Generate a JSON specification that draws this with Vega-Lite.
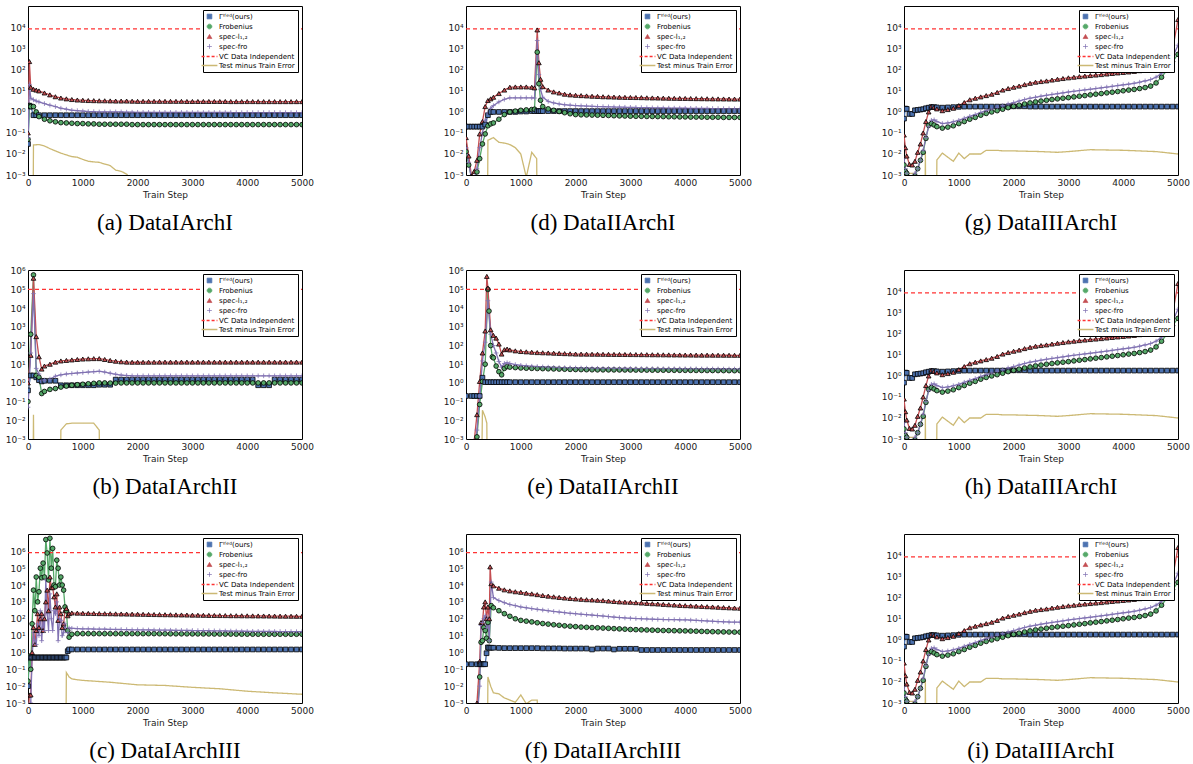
{
"$schema":"https://vega.github.io/schema/vega-lite/v6.json",
"background":"white",
"padding":{"left":4,"top":5,"right":4,"bottom":4},
"config":{
 "font":"DejaVu Sans",
 "view":{"stroke":"black","strokeWidth":1},
 "mark":{"invalid":"filter"},
 "axis":{"domain":false,"ticks":false,"grid":false,"labelFont":"DejaVu Sans","labelFontSize":9,"labelColor":"#1a1a1a","titleFont":"DejaVu Sans","titleFontSize":9,"titleFontWeight":"normal","titleColor":"#1a1a1a","labelPadding":3,"labelOverlap":false},
 "axisX":{"labelFlush":false,"titlePadding":3},
 "axisY":{"labelExpr":"datum.value<0.005?'10⁻³':datum.value<0.05?'10⁻²':datum.value<0.5?'10⁻¹':datum.value<5?'10⁰':datum.value<50?'10¹':datum.value<500?'10²':datum.value<5000?'10³':datum.value<50000?'10⁴':datum.value<500000?'10⁵':'10⁶'"},
 "title":{"font":"Liberation Serif","fontSize":23,"fontWeight":"normal","color":"black","orient":"bottom","anchor":"middle","offset":13},
 "legend":{"orient":"top-right","offset":4,"fillColor":"white","strokeColor":"black","padding":3,"rowPadding":1,"labelFont":"DejaVu Sans","labelFontSize":7,"labelColor":"black","symbolSize":22,"labelOffset":6}
},
"datasets":{
"a":[
{"x":0,"G":0.03,"F":0.05,"S":0.1,"R":0.06,"V":9000},
{"x":25,"G":2,"F":2,"S":250,"R":20},
{"x":50,"G":1.8,"F":1.8,"S":15,"R":4.5},
{"x":90,"T":1e-6},
{"x":100,"G":0.7,"F":1.8,"S":12,"R":3.8,"T":0.027},
{"x":150,"G":0.7,"F":1,"S":11,"R":3.3},
{"x":200,"G":0.7,"F":0.6,"S":10,"R":3,"T":0.028},
{"x":300,"G":0.7,"F":0.45,"S":8,"R":2.5,"T":0.024},
{"x":400,"G":0.7,"F":0.38,"S":6.5,"R":2.1,"T":0.018},
{"x":500,"G":0.7,"F":0.34,"S":5.3,"R":1.8,"T":0.014},
{"x":600,"G":0.7,"F":0.31,"S":4.6,"R":1.5,"T":0.011},
{"x":700,"G":0.7,"F":0.3,"S":4.2,"R":1.35,"T":0.009},
{"x":800,"G":0.7,"F":0.29,"S":3.9,"R":1.2,"T":0.0075},
{"x":900,"G":0.7,"F":0.28,"S":3.7,"R":1.15,"T":0.007},
{"x":1000,"G":0.7,"F":0.28,"S":3.6,"R":1.1,"T":0.0055},
{"x":1100,"G":0.7,"F":0.27,"S":3.5,"R":1.05,"T":0.0045},
{"x":1200,"G":0.7,"F":0.27,"S":3.45,"R":1.03,"T":0.0042},
{"x":1300,"G":0.7,"F":0.26,"S":3.4,"R":1,"T":0.004},
{"x":1400,"G":0.7,"F":0.26,"S":3.4,"R":1,"T":0.0033},
{"x":1500,"G":0.7,"F":0.26,"S":3.35,"R":1,"T":0.0028},
{"x":1600,"G":0.7,"F":0.26,"S":3.3,"R":1,"T":0.0017},
{"x":1700,"G":0.7,"F":0.26,"S":3.3,"R":1,"T":0.0015},
{"x":1800,"G":0.7,"F":0.26,"S":3.3,"R":0.98,"T":0.0011},
{"x":1900,"G":0.7,"F":0.25,"S":3.25,"R":0.97,"T":0.0005},
{"x":2000,"G":0.7,"F":0.25,"S":3.2,"R":0.96,"T":1e-6},
{"x":2100,"G":0.7,"F":0.25,"S":3.2,"R":0.96},
{"x":2200,"G":0.7,"F":0.25,"S":3.2,"R":0.96},
{"x":2300,"G":0.7,"F":0.25,"S":3.2,"R":0.95},
{"x":2400,"G":0.7,"F":0.25,"S":3.2,"R":0.95},
{"x":2500,"G":0.7,"F":0.25,"S":3.2,"R":0.95},
{"x":2600,"G":0.7,"F":0.25,"S":3.2,"R":0.95},
{"x":2700,"G":0.7,"F":0.25,"S":3.2,"R":0.95},
{"x":2800,"G":0.7,"F":0.25,"S":3.2,"R":0.95},
{"x":2900,"G":0.7,"F":0.25,"S":3.15,"R":0.95},
{"x":3000,"G":0.7,"F":0.25,"S":3.15,"R":0.94},
{"x":3100,"G":0.7,"F":0.25,"S":3.15,"R":0.94},
{"x":3200,"G":0.7,"F":0.25,"S":3.15,"R":0.94},
{"x":3300,"G":0.7,"F":0.25,"S":3.15,"R":0.94},
{"x":3400,"G":0.7,"F":0.25,"S":3.15,"R":0.94},
{"x":3500,"G":0.7,"F":0.25,"S":3.15,"R":0.94},
{"x":3600,"G":0.7,"F":0.25,"S":3.15,"R":0.94},
{"x":3700,"G":0.7,"F":0.25,"S":3.12,"R":0.94},
{"x":3800,"G":0.7,"F":0.25,"S":3.12,"R":0.93},
{"x":3900,"G":0.7,"F":0.25,"S":3.12,"R":0.93},
{"x":4000,"G":0.7,"F":0.25,"S":3.12,"R":0.93},
{"x":4100,"G":0.7,"F":0.25,"S":3.12,"R":0.93},
{"x":4200,"G":0.7,"F":0.25,"S":3.1,"R":0.93},
{"x":4300,"G":0.7,"F":0.25,"S":3.1,"R":0.93},
{"x":4400,"G":0.7,"F":0.25,"S":3.1,"R":0.93},
{"x":4500,"G":0.7,"F":0.25,"S":3.1,"R":0.93},
{"x":4600,"G":0.7,"F":0.25,"S":3.1,"R":0.93},
{"x":4700,"G":0.7,"F":0.25,"S":3.1,"R":0.93},
{"x":4800,"G":0.7,"F":0.25,"S":3.1,"R":0.93},
{"x":4900,"G":0.7,"F":0.25,"S":3.1,"R":0.93},
{"x":5000,"G":0.7,"F":0.25,"S":3.1,"R":0.93,"V":9000}
],
"d":[
{"x":0,"G":0.2,"F":0.013,"S":0.06,"R":0.02,"V":9000},
{"x":50,"G":0.2,"F":0.003,"S":0.008,"R":0.004},
{"x":100,"G":0.2,"F":0.0008,"S":0.0009,"R":0.0006},
{"x":150,"G":0.2,"F":0.0005,"S":0.0015,"R":0.0007},
{"x":200,"G":0.2,"F":0.0014,"S":0.005,"R":0.002},
{"x":250,"G":0.2,"F":0.006,"S":0.09,"R":0.02},
{"x":300,"G":0.2,"F":0.03,"S":0.35,"R":0.1},
{"x":350,"G":0.25,"F":0.09,"S":1.8,"R":0.4},
{"x":390,"T":1e-6},
{"x":400,"G":0.7,"F":0.22,"S":3.5,"R":0.9,"T":0.045},
{"x":450,"G":1,"F":0.27,"S":4.2,"R":1.5},
{"x":500,"G":1,"F":0.3,"S":5,"R":2,"T":0.06},
{"x":600,"G":1,"F":0.45,"S":7.5,"R":3,"T":0.036},
{"x":700,"G":1,"F":0.75,"S":11,"R":4,"T":0.033},
{"x":800,"G":1,"F":1,"S":15,"R":4.7,"T":0.028},
{"x":900,"G":1,"F":1.1,"S":15.5,"R":4.7,"T":0.02},
{"x":1000,"G":1.05,"F":1.2,"S":15.5,"R":4.7,"T":0.01},
{"x":1100,"G":1.05,"F":1.25,"S":15.5,"R":4.7,"T":0.0008},
{"x":1200,"G":1.1,"F":1.3,"S":15,"R":4.7,"T":0.012},
{"x":1250,"G":1.1,"F":1.35,"S":14,"R":4.6},
{"x":1290,"T":0.006},
{"x":1300,"G":1.1,"F":700,"S":8000,"R":2500,"T":1e-6},
{"x":1330,"G":1.1,"F":22,"S":220,"R":60},
{"x":1360,"G":1.1,"F":3.6,"S":36,"R":12},
{"x":1400,"G":1.1,"F":1.8,"S":16,"R":5},
{"x":1500,"G":1.1,"F":1.4,"S":11,"R":3.2},
{"x":1600,"G":1.1,"F":1.2,"S":9,"R":2.7},
{"x":1700,"G":1.1,"F":1.05,"S":8,"R":2.4},
{"x":1800,"G":1.1,"F":0.92,"S":7,"R":2.2},
{"x":1900,"G":1.1,"F":0.82,"S":6.5,"R":2.1},
{"x":2000,"G":1.1,"F":0.75,"S":6.2,"R":2},
{"x":2100,"G":1.1,"F":0.73,"S":6,"R":1.95},
{"x":2200,"G":1.1,"F":0.72,"S":5.8,"R":1.9},
{"x":2300,"G":1.1,"F":0.71,"S":5.6,"R":1.85},
{"x":2400,"G":1.1,"F":0.7,"S":5.5,"R":1.8},
{"x":2500,"G":1.1,"F":0.69,"S":5.3,"R":1.78},
{"x":2600,"G":1.1,"F":0.68,"S":5.2,"R":1.75},
{"x":2700,"G":1.1,"F":0.66,"S":5.1,"R":1.72},
{"x":2800,"G":1.1,"F":0.65,"S":5,"R":1.7},
{"x":2900,"G":1.1,"F":0.64,"S":4.95,"R":1.67},
{"x":3000,"G":1.1,"F":0.63,"S":4.9,"R":1.65},
{"x":3100,"G":1.1,"F":0.62,"S":4.85,"R":1.63},
{"x":3200,"G":1.1,"F":0.62,"S":4.8,"R":1.61},
{"x":3300,"G":1.1,"F":0.61,"S":4.7,"R":1.59},
{"x":3400,"G":1.1,"F":0.61,"S":4.65,"R":1.57},
{"x":3500,"G":1.1,"F":0.6,"S":4.6,"R":1.55},
{"x":3600,"G":1.1,"F":0.6,"S":4.55,"R":1.54},
{"x":3700,"G":1.1,"F":0.59,"S":4.5,"R":1.53},
{"x":3800,"G":1.1,"F":0.59,"S":4.45,"R":1.52},
{"x":3900,"G":1.1,"F":0.58,"S":4.42,"R":1.51},
{"x":4000,"G":1.1,"F":0.58,"S":4.4,"R":1.5},
{"x":4100,"G":1.1,"F":0.57,"S":4.35,"R":1.49},
{"x":4200,"G":1.1,"F":0.57,"S":4.3,"R":1.48},
{"x":4300,"G":1.1,"F":0.57,"S":4.27,"R":1.47},
{"x":4400,"G":1.1,"F":0.56,"S":4.24,"R":1.46},
{"x":4500,"G":1.1,"F":0.56,"S":4.2,"R":1.45},
{"x":4600,"G":1.1,"F":0.56,"S":4.17,"R":1.44},
{"x":4700,"G":1.1,"F":0.55,"S":4.15,"R":1.43},
{"x":4800,"G":1.1,"F":0.55,"S":4.12,"R":1.42},
{"x":4900,"G":1.1,"F":0.55,"S":4.1,"R":1.41},
{"x":5000,"G":1.1,"F":0.55,"S":4.1,"R":1.4,"V":9000}
],
"g":[
{"x":0,"G":0.48,"F":0.003,"S":0.08,"R":0.006,"T":0.0012,"V":9000},
{"x":25,"G":1.45,"F":0.0015,"S":0.02,"R":0.002},
{"x":50,"G":1.4,"F":0.0012,"S":0.008,"R":0.0012},
{"x":100,"G":0.8,"F":0.0006,"S":0.0032,"R":0.0008,"T":0.0012},
{"x":150,"G":0.8,"F":0.0007,"S":0.003,"R":0.0008},
{"x":200,"G":1.2,"F":0.0009,"S":0.0045,"R":0.0012,"T":0.0012},
{"x":210,"T":1e-6},
{"x":250,"G":1.25,"F":0.002,"S":0.012,"R":0.002},
{"x":300,"G":1.3,"F":0.005,"S":0.03,"R":0.005},
{"x":350,"G":1.35,"F":0.012,"S":0.1,"R":0.015},
{"x":380,"T":1e-6},
{"x":390,"T":0.012},
{"x":400,"G":1.5,"F":0.055,"S":0.35,"R":0.06,"T":1e-6},
{"x":450,"G":1.6,"F":0.23,"S":1,"R":0.2},
{"x":500,"G":1.7,"F":0.28,"S":1.9,"R":0.4},
{"x":550,"G":1.7,"F":0.24,"S":1.7,"R":0.42},
{"x":590,"T":1e-6},
{"x":600,"G":1.65,"F":0.2,"S":1.4,"R":0.35,"T":0.0052},
{"x":700,"G":1.6,"F":0.17,"S":1.15,"R":0.28,"T":0.011},
{"x":800,"G":1.65,"F":0.19,"S":1.3,"R":0.3,"T":0.007},
{"x":900,"G":1.7,"F":0.22,"S":1.5,"R":0.34,"T":0.0045},
{"x":1000,"G":1.75,"F":0.28,"S":2,"R":0.4,"T":0.011},
{"x":1100,"G":1.8,"F":0.35,"S":2.8,"R":0.5,"T":0.006},
{"x":1200,"G":1.8,"F":0.45,"S":3.8,"R":0.62,"T":0.01},
{"x":1300,"G":1.8,"F":0.55,"S":4.5,"R":0.75,"T":0.01},
{"x":1400,"G":1.8,"F":0.7,"S":5.2,"R":0.95,"T":0.01},
{"x":1500,"G":1.8,"F":0.85,"S":6,"R":1.15,"T":0.015},
{"x":1600,"G":1.8,"F":1,"S":7,"R":1.4,"T":0.015},
{"x":1700,"G":1.8,"F":1.15,"S":8.5,"R":1.7,"T":0.015},
{"x":1800,"G":1.8,"F":1.35,"S":11,"R":2,"T":0.014},
{"x":1900,"G":1.8,"F":1.6,"S":13,"R":2.4},
{"x":2000,"G":1.85,"F":1.85,"S":15,"R":2.8,"T":0.014},
{"x":2100,"G":1.85,"F":2.1,"S":17,"R":3.3},
{"x":2200,"G":1.85,"F":2.4,"S":20,"R":3.9},
{"x":2300,"G":1.8,"F":2.7,"S":23,"R":4.5},
{"x":2400,"G":1.8,"F":3,"S":26,"R":5},
{"x":2500,"G":1.8,"F":3.3,"S":28,"R":5.6,"T":0.013},
{"x":2600,"G":1.8,"F":3.6,"S":30,"R":6.2},
{"x":2700,"G":1.8,"F":3.9,"S":33,"R":6.8},
{"x":2800,"G":1.8,"F":4.2,"S":36,"R":7.4,"T":0.012},
{"x":2900,"G":1.8,"F":4.5,"S":39,"R":8.1},
{"x":3000,"G":1.8,"F":4.8,"S":42,"R":8.9,"T":0.013},
{"x":3100,"G":1.8,"F":5.2,"S":45,"R":9.6},
{"x":3200,"G":1.8,"F":5.6,"S":48,"R":10.4},
{"x":3300,"G":1.8,"F":6,"S":51,"R":11.2},
{"x":3400,"G":1.8,"F":6.5,"S":54,"R":12,"T":0.016},
{"x":3500,"G":1.8,"F":7,"S":57,"R":13},
{"x":3600,"G":1.8,"F":7.5,"S":60,"R":14},
{"x":3700,"G":1.8,"F":8.1,"S":64,"R":15.2},
{"x":3800,"G":1.8,"F":8.7,"S":68,"R":16.5},
{"x":3900,"G":1.8,"F":9.4,"S":72,"R":18},
{"x":4000,"G":1.8,"F":10.2,"S":76,"R":19.5,"T":0.015},
{"x":4100,"G":1.8,"F":11,"S":80,"R":21},
{"x":4200,"G":1.8,"F":11.8,"S":85,"R":23},
{"x":4300,"G":1.8,"F":13,"S":92,"R":26},
{"x":4400,"G":1.8,"F":14.5,"S":100,"R":30},
{"x":4500,"G":1.8,"F":17,"S":110,"R":35},
{"x":4600,"G":1.8,"F":24,"S":125,"R":45,"T":0.013},
{"x":4700,"G":1.8,"F":45,"S":160,"R":70},
{"x":4800,"G":1.8,"F":100,"S":250,"R":130},
{"x":4900,"G":1.8,"F":250,"S":900,"R":400},
{"x":5000,"G":1.8,"F":550,"S":25000,"R":1500,"T":0.01,"V":9000}
],
"b":[
{"x":0,"G":0.4,"F":0.1,"S":1,"R":0.05,"V":100000},
{"x":50,"G":2.5,"F":400,"S":30,"R":40},
{"x":90,"T":1e-6},
{"x":100,"G":2.5,"F":600000,"S":400000,"R":60000,"T":0.02},
{"x":110,"T":1e-6},
{"x":150,"G":2,"F":2.5,"S":300,"R":6},
{"x":200,"G":1.4,"F":2,"S":25,"R":3},
{"x":250,"G":1.2,"F":0.27,"S":5.5,"R":1.3},
{"x":300,"G":1.3,"F":0.35,"S":8,"R":1.4},
{"x":400,"G":1.3,"F":0.45,"S":10,"R":1.6},
{"x":500,"G":1.3,"F":0.5,"S":13,"R":2.3},
{"x":590,"T":1e-6},
{"x":600,"G":0.75,"F":0.6,"S":15,"R":2.7,"T":0.003},
{"x":700,"G":0.75,"F":0.68,"S":16,"R":3,"T":0.0065},
{"x":800,"G":0.75,"F":0.75,"S":17,"R":3.2,"T":0.007},
{"x":900,"G":0.75,"F":0.8,"S":18,"R":3.4,"T":0.007},
{"x":1000,"G":0.75,"F":0.85,"S":19,"R":3.6,"T":0.007},
{"x":1100,"G":0.75,"F":0.9,"S":19.5,"R":3.8,"T":0.007},
{"x":1200,"G":0.75,"F":0.95,"S":20,"R":4,"T":0.007},
{"x":1300,"G":0.8,"F":1,"S":20,"R":4.2,"T":0.003},
{"x":1310,"T":1e-6},
{"x":1400,"G":0.8,"F":1,"S":18,"R":3.8},
{"x":1500,"G":0.8,"F":0.98,"S":16,"R":3.3},
{"x":1600,"G":1.5,"F":0.98,"S":14.5,"R":2.9},
{"x":1700,"G":1.5,"F":1,"S":13.5,"R":2.6},
{"x":1800,"G":1.5,"F":1,"S":13,"R":2.5},
{"x":1900,"G":1.5,"F":1,"S":12.8,"R":2.4},
{"x":2000,"G":1.5,"F":1,"S":12.8,"R":2.4},
{"x":2100,"G":1.5,"F":1,"S":12.8,"R":2.4},
{"x":2200,"G":1.5,"F":1,"S":12.9,"R":2.4},
{"x":2300,"G":1.5,"F":1,"S":12.9,"R":2.4},
{"x":2400,"G":1.5,"F":1,"S":13,"R":2.4},
{"x":2500,"G":1.5,"F":1,"S":13,"R":2.4},
{"x":2600,"G":1.5,"F":1,"S":13,"R":2.4},
{"x":2700,"G":1.5,"F":1,"S":13,"R":2.4},
{"x":2800,"G":1.5,"F":1,"S":13,"R":2.4},
{"x":2900,"G":1.5,"F":1,"S":13,"R":2.4},
{"x":3000,"G":1.5,"F":1,"S":13,"R":2.4},
{"x":3100,"G":1.5,"F":1,"S":13,"R":2.4},
{"x":3200,"G":1.5,"F":1,"S":13,"R":2.4},
{"x":3300,"G":1.5,"F":1,"S":13,"R":2.4},
{"x":3400,"G":1.5,"F":1,"S":13,"R":2.4},
{"x":3500,"G":1.5,"F":1,"S":13,"R":2.4},
{"x":3600,"G":1.5,"F":1,"S":13,"R":2.4},
{"x":3700,"G":1.5,"F":1,"S":13,"R":2.4},
{"x":3800,"G":1.5,"F":1,"S":13,"R":2.4},
{"x":3900,"G":1.5,"F":1,"S":13,"R":2.4},
{"x":4000,"G":1.5,"F":1,"S":13,"R":2.4},
{"x":4100,"G":1.5,"F":1,"S":13,"R":2.4},
{"x":4200,"G":0.75,"F":1,"S":13,"R":2.4},
{"x":4300,"G":0.75,"F":1,"S":13,"R":2.4},
{"x":4400,"G":0.75,"F":1,"S":13,"R":2.4},
{"x":4500,"G":1.5,"F":1,"S":13,"R":2.4},
{"x":4600,"G":1.5,"F":1,"S":13,"R":2.4},
{"x":4700,"G":1.5,"F":1,"S":13,"R":2.4},
{"x":4800,"G":1.5,"F":1,"S":13,"R":2.4},
{"x":4900,"G":1.5,"F":1,"S":13,"R":2.4},
{"x":5000,"G":1.5,"F":1,"S":13,"R":2.4,"V":100000}
],
"e":[
{"x":0,"G":0.2,"F":1e-5,"S":1e-5,"R":1e-5,"V":100000},
{"x":100,"G":0.2,"F":1e-5,"S":1e-5,"R":1e-5},
{"x":150,"G":0.2,"F":0.0001,"S":0.0008,"R":0.0001},
{"x":200,"G":0.2,"F":0.0013,"S":0.02,"R":0.003},
{"x":250,"G":0.2,"F":0.07,"S":1.2,"R":0.2},
{"x":280,"T":1e-6},
{"x":300,"G":1.9,"F":1.2,"S":40,"R":15,"T":0.035},
{"x":350,"G":1.1,"F":10,"S":600,"R":150,"T":0.015},
{"x":380,"S":500000,"T":0.007},
{"x":390,"T":1e-6},
{"x":400,"G":1.1,"F":100000,"S":120000,"R":25000},
{"x":420,"F":7000},
{"x":450,"G":1.1,"F":100,"S":700,"R":400},
{"x":480,"F":25},
{"x":500,"G":1.1,"F":22,"S":350,"R":100},
{"x":550,"G":1.1,"F":8,"S":250,"R":40},
{"x":600,"G":1.1,"F":4,"S":120,"R":14},
{"x":650,"G":1.1,"F":2.7,"S":35,"R":7},
{"x":700,"G":1.1,"F":6,"S":60,"R":11},
{"x":750,"G":1.1,"F":7.5,"S":65,"R":12},
{"x":800,"G":1.1,"F":7,"S":58,"R":11},
{"x":900,"G":1.1,"F":6.6,"S":52,"R":9.5},
{"x":1000,"G":1.1,"F":6.3,"S":48,"R":8.7},
{"x":1100,"G":1.1,"F":6.1,"S":46,"R":8.2},
{"x":1200,"G":1.1,"F":6,"S":44,"R":7.8},
{"x":1300,"G":1.1,"F":5.9,"S":42,"R":7.5},
{"x":1400,"G":1.1,"F":5.8,"S":41,"R":7.2},
{"x":1500,"G":1.1,"F":5.7,"S":40,"R":7},
{"x":1600,"G":1.1,"F":5.6,"S":39,"R":6.8},
{"x":1700,"G":1.1,"F":5.5,"S":38,"R":6.6},
{"x":1800,"G":1.1,"F":5.4,"S":37,"R":6.5},
{"x":1900,"G":1.1,"F":5.3,"S":36,"R":6.4},
{"x":2000,"G":1.1,"F":5.2,"S":35,"R":6.3},
{"x":2100,"G":1.1,"F":5.15,"S":34.8,"R":6.25},
{"x":2200,"G":1.1,"F":5.1,"S":34.6,"R":6.2},
{"x":2300,"G":1.1,"F":5.05,"S":34.4,"R":6.1},
{"x":2400,"G":1.1,"F":5,"S":34.2,"R":6.05},
{"x":2500,"G":1.1,"F":5,"S":34,"R":6},
{"x":2600,"G":1.1,"F":4.98,"S":33.8,"R":5.98},
{"x":2700,"G":1.1,"F":4.96,"S":33.6,"R":5.96},
{"x":2800,"G":1.1,"F":4.94,"S":33.4,"R":5.94},
{"x":2900,"G":1.1,"F":4.92,"S":33.2,"R":5.92},
{"x":3000,"G":1.1,"F":4.9,"S":33,"R":5.9},
{"x":3100,"G":1.1,"F":4.88,"S":32.8,"R":5.88},
{"x":3200,"G":1.1,"F":4.86,"S":32.6,"R":5.86},
{"x":3300,"G":1.1,"F":4.84,"S":32.4,"R":5.84},
{"x":3400,"G":1.1,"F":4.82,"S":32.2,"R":5.82},
{"x":3500,"G":1.1,"F":4.8,"S":32,"R":5.8},
{"x":3600,"G":1.1,"F":4.78,"S":31.8,"R":5.78},
{"x":3700,"G":1.1,"F":4.76,"S":31.6,"R":5.76},
{"x":3800,"G":1.1,"F":4.74,"S":31.4,"R":5.74},
{"x":3900,"G":1.1,"F":4.72,"S":31.2,"R":5.72},
{"x":4000,"G":1.1,"F":4.7,"S":31,"R":5.7},
{"x":4100,"G":1.1,"F":4.68,"S":30.9,"R":5.68},
{"x":4200,"G":1.1,"F":4.66,"S":30.8,"R":5.66},
{"x":4300,"G":1.1,"F":4.64,"S":30.7,"R":5.64},
{"x":4400,"G":1.1,"F":4.62,"S":30.6,"R":5.62},
{"x":4500,"G":1.1,"F":4.6,"S":30.5,"R":5.6},
{"x":4600,"G":1.1,"F":4.58,"S":30.4,"R":5.58},
{"x":4700,"G":1.1,"F":4.56,"S":30.3,"R":5.56},
{"x":4800,"G":1.1,"F":4.54,"S":30.2,"R":5.54},
{"x":4900,"G":1.1,"F":4.52,"S":30.1,"R":5.52},
{"x":5000,"G":1.1,"F":4.5,"S":30,"R":5.5,"V":100000}
],
"c":[
{"x":0,"G":0.01,"F":0.02,"S":0.0001,"R":0.0001,"V":850000},
{"x":25,"G":0.5,"F":0.6,"S":0.003,"R":0.0005},
{"x":50,"G":0.5,"F":0.1,"S":0.003,"R":0.001},
{"x":75,"G":0.5,"F":50,"S":1,"R":0.5},
{"x":100,"G":0.5,"F":5000,"S":30,"R":15},
{"x":125,"G":0.5,"F":300,"S":3,"R":5},
{"x":150,"G":0.5,"F":30000,"S":20,"R":3},
{"x":175,"G":0.5,"F":1000,"S":200,"R":50},
{"x":200,"G":0.5,"F":4000,"S":30,"R":10},
{"x":225,"G":0.5,"F":100000,"S":100,"R":300},
{"x":250,"G":0.5,"F":27000,"S":200,"R":5},
{"x":275,"G":0.5,"F":200000,"S":20,"R":100},
{"x":300,"G":0.5,"F":30000,"S":100,"R":20},
{"x":325,"G":0.5,"F":5000000,"S":1000,"R":20000},
{"x":350,"G":0.5,"F":800000,"S":5000,"R":200},
{"x":375,"G":0.5,"F":20000,"S":300,"R":20},
{"x":400,"G":0.5,"F":6000000,"S":30000,"R":3000},
{"x":425,"G":0.5,"F":100000,"S":7000,"R":100},
{"x":450,"G":0.5,"F":1500000,"S":7000,"R":20},
{"x":475,"G":0.5,"F":10000,"S":2000,"R":300},
{"x":500,"G":0.5,"F":8000,"S":500,"R":200},
{"x":525,"G":0.5,"F":300000,"S":3000,"R":1000},
{"x":550,"G":0.5,"F":100000,"S":80,"R":5},
{"x":575,"G":0.5,"F":10000,"S":500,"R":100},
{"x":600,"G":0.5,"F":30000,"S":200,"R":80},
{"x":625,"G":0.5,"F":10000,"S":30,"R":10},
{"x":650,"G":0.5,"F":5000,"S":50,"R":15},
{"x":675,"G":0.5,"F":500,"S":300,"R":50},
{"x":690,"T":1e-6},
{"x":700,"G":0.5,"F":300,"S":400,"R":20,"T":0.065},
{"x":725,"G":1.2,"F":20,"S":150,"R":15},
{"x":750,"G":1.5,"F":8,"S":200,"R":28,"T":0.035},
{"x":800,"G":1.5,"F":12,"S":220,"R":27,"T":0.027},
{"x":900,"G":1.5,"F":13,"S":215,"R":26,"T":0.024},
{"x":1000,"G":1.5,"F":13,"S":210,"R":25,"T":0.022},
{"x":1100,"G":1.5,"F":13,"S":208,"R":25},
{"x":1200,"G":1.5,"F":13,"S":205,"R":24.5},
{"x":1300,"G":1.5,"F":13,"S":202,"R":24},
{"x":1400,"G":1.5,"F":13,"S":200,"R":24},
{"x":1500,"G":1.5,"F":13,"S":198,"R":23.5,"T":0.017},
{"x":1600,"G":1.5,"F":13,"S":195,"R":23},
{"x":1700,"G":1.5,"F":13,"S":192,"R":23},
{"x":1800,"G":1.5,"F":13,"S":190,"R":22.5},
{"x":1900,"G":1.5,"F":13,"S":188,"R":22},
{"x":2000,"G":1.5,"F":13,"S":185,"R":22,"T":0.012},
{"x":2100,"G":1.5,"F":13,"S":183,"R":21.8},
{"x":2200,"G":1.5,"F":13,"S":180,"R":21.6},
{"x":2300,"G":1.5,"F":13,"S":178,"R":21.4},
{"x":2400,"G":1.5,"F":12.9,"S":176,"R":21.2},
{"x":2500,"G":1.5,"F":12.9,"S":174,"R":21,"T":0.011},
{"x":2600,"G":1.5,"F":12.8,"S":172,"R":20.8},
{"x":2700,"G":1.5,"F":12.8,"S":170,"R":20.6},
{"x":2800,"G":1.5,"F":12.7,"S":168,"R":20.4},
{"x":2900,"G":1.5,"F":12.7,"S":166,"R":20.2},
{"x":3000,"G":1.5,"F":12.6,"S":164,"R":20,"T":0.0085},
{"x":3100,"G":1.5,"F":12.6,"S":162,"R":19.8},
{"x":3200,"G":1.5,"F":12.5,"S":160,"R":19.6},
{"x":3300,"G":1.5,"F":12.5,"S":158,"R":19.4},
{"x":3400,"G":1.5,"F":12.4,"S":157,"R":19.2},
{"x":3500,"G":1.5,"F":12.4,"S":155,"R":19,"T":0.007},
{"x":3600,"G":1.5,"F":12.3,"S":154,"R":18.8},
{"x":3700,"G":1.5,"F":12.3,"S":152,"R":18.6},
{"x":3800,"G":1.5,"F":12.2,"S":151,"R":18.4},
{"x":3900,"G":1.5,"F":12.2,"S":150,"R":18.2},
{"x":4000,"G":1.5,"F":12.1,"S":149,"R":18,"T":0.005},
{"x":4100,"G":1.5,"F":12.1,"S":148,"R":17.9},
{"x":4200,"G":1.5,"F":12,"S":147,"R":17.8},
{"x":4300,"G":1.5,"F":12,"S":146,"R":17.7},
{"x":4400,"G":1.5,"F":12,"S":145,"R":17.6},
{"x":4500,"G":1.5,"F":12,"S":144,"R":17.5,"T":0.004},
{"x":4600,"G":1.5,"F":12,"S":143,"R":17.4},
{"x":4700,"G":1.5,"F":12,"S":142,"R":17.3},
{"x":4800,"G":1.5,"F":12,"S":141,"R":17.2},
{"x":4900,"G":1.5,"F":12,"S":140,"R":17.1},
{"x":5000,"G":1.5,"F":12,"S":140,"R":17,"T":0.0033,"V":850000}
],
"f":[
{"x":0,"G":0.2,"F":1e-5,"S":1e-5,"R":1e-5,"V":850000},
{"x":100,"G":0.2,"F":1e-5,"S":1e-5,"R":1e-5},
{"x":200,"G":0.2,"F":0.0001,"S":0.001,"R":0.0001},
{"x":250,"G":0.2,"F":0.035,"S":0.3,"R":0.01},
{"x":275,"G":0.2,"F":4,"S":60,"R":40},
{"x":300,"G":0.2,"F":5,"S":60,"R":60},
{"x":325,"G":0.2,"F":30,"S":500,"R":100},
{"x":350,"G":0.2,"F":20,"S":1000,"R":150},
{"x":375,"G":0.9,"F":7,"S":100,"R":30},
{"x":390,"T":1e-6},
{"x":400,"G":2,"F":60,"S":500,"R":100,"T":0.035},
{"x":425,"G":1.9,"F":5,"S":100,"R":5},
{"x":440,"S":120000},
{"x":450,"T":0.01},
{"x":460,"G":1.9,"F":600,"S":12000,"R":15000},
{"x":500,"G":1.9,"F":450,"S":9000,"R":1800,"T":0.004},
{"x":600,"G":1.85,"F":300,"S":6500,"R":1200,"T":0.0035},
{"x":700,"G":1.8,"F":200,"S":5200,"R":900,"T":0.002},
{"x":800,"G":1.8,"F":140,"S":4500,"R":700,"T":0.0015},
{"x":900,"G":1.8,"F":100,"S":4000,"R":600,"T":0.0011},
{"x":1000,"G":1.8,"F":80,"S":3700,"R":500,"T":0.003},
{"x":1100,"G":1.8,"F":72,"S":3300,"R":450,"T":0.0009},
{"x":1200,"G":1.8,"F":65,"S":3000,"R":400,"T":0.0015},
{"x":1300,"G":1.8,"F":58,"S":2700,"R":360,"T":0.0015},
{"x":1320,"T":1e-6},
{"x":1400,"G":1.75,"F":52,"S":2400,"R":330},
{"x":1500,"G":1.75,"F":48,"S":2200,"R":300},
{"x":1600,"G":1.75,"F":44,"S":2000,"R":270},
{"x":1700,"G":1.75,"F":41,"S":1850,"R":250},
{"x":1800,"G":1.7,"F":38,"S":1700,"R":230},
{"x":1900,"G":1.7,"F":36,"S":1600,"R":210},
{"x":2000,"G":1.7,"F":34,"S":1500,"R":200},
{"x":2100,"G":1.7,"F":32,"S":1420,"R":185},
{"x":2200,"G":1.7,"F":31,"S":1350,"R":175},
{"x":2300,"G":1.5,"F":30,"S":1300,"R":165},
{"x":2400,"G":1.7,"F":29,"S":1250,"R":155},
{"x":2500,"G":1.7,"F":28,"S":1200,"R":145},
{"x":2600,"G":1.7,"F":27,"S":1120,"R":135},
{"x":2700,"G":1.5,"F":26,"S":1060,"R":125},
{"x":2800,"G":1.65,"F":25,"S":1000,"R":118},
{"x":2900,"G":1.65,"F":24,"S":970,"R":112},
{"x":3000,"G":1.65,"F":23,"S":950,"R":107},
{"x":3100,"G":1.65,"F":22.5,"S":900,"R":103},
{"x":3200,"G":1.4,"F":22,"S":860,"R":100},
{"x":3300,"G":1.4,"F":21.5,"S":820,"R":97},
{"x":3400,"G":1.4,"F":21,"S":780,"R":94},
{"x":3500,"G":1.4,"F":20.5,"S":750,"R":92},
{"x":3600,"G":1.4,"F":20,"S":710,"R":90},
{"x":3700,"G":1.4,"F":19.8,"S":680,"R":89},
{"x":3800,"G":1.4,"F":19.5,"S":650,"R":88},
{"x":3900,"G":1.4,"F":19.2,"S":620,"R":87},
{"x":4000,"G":1.4,"F":19,"S":600,"R":86},
{"x":4100,"G":1.4,"F":18.6,"S":580,"R":83},
{"x":4200,"G":1.4,"F":18.2,"S":560,"R":80},
{"x":4300,"G":1.4,"F":17.8,"S":540,"R":77},
{"x":4400,"G":1.4,"F":17.4,"S":520,"R":74},
{"x":4500,"G":1.4,"F":17,"S":500,"R":71},
{"x":4600,"G":1.4,"F":16.8,"S":480,"R":68},
{"x":4700,"G":1.4,"F":16.5,"S":460,"R":66},
{"x":4800,"G":1.4,"F":16.3,"S":445,"R":64},
{"x":4900,"G":1.4,"F":16.1,"S":430,"R":63},
{"x":5000,"G":1.4,"F":16,"S":420,"R":62,"V":850000}
]
},
"columns":3,
"spacing":{"row":95,"column":164},
"bounds":"flush",
"resolve":{"scale":{"color":"independent","shape":"independent","x":"independent","y":"independent"},"legend":{"color":"independent","shape":"independent"}},
"concat":[
{"title":"(a) DataIArchI","width":274,"height":169,"data":{"name":"a"},
 "transform":[{"fold":["G","F","S","R","V","T"],"as":["key","y"]},{"filter":"isValid(datum.y)"}],
 "encoding":{"x":{"field":"x","type":"quantitative","scale":{"domain":[0,5000],"nice":false},"axis":{"values":[0,1000,2000,3000,4000,5000],"format":"d","title":"Train Step"}},
  "y":{"field":"y","type":"quantitative","scale":{"type":"log","domain":[0.001,110000],"nice":false},"axis":{"values":[0.001,0.01,0.1,1,10,100,1000,10000],"title":null}}},
 "layer":[
  {"mark":{"type":"line","clip":true,"strokeWidth":1.3},"encoding":{"color":{"field":"key","type":"nominal","scale":{"domain":["G","F","S","R","V","T"],"range":["#4c72b0","#55a868","#c44e52","#8172b2","#ff3333","#ccb974"]},"legend":{"title":null,"labelExpr":"datum.value==='G'?'Γᴵᶠᵉᵈ(ours)':datum.value==='F'?'Frobenius':datum.value==='S'?'spec-l₁,₂':datum.value==='R'?'spec-fro':datum.value==='V'?'VC Data Independent':'Test minus Train Error'","encode":{"symbols":{"update":{"stroke":{"signal":"datum.value==='R'?'#8172b2':datum.value==='V'?'#ff3333':datum.value==='T'?'#ccb974':'black'"},"strokeDash":{"signal":"datum.value==='V'?[3,2]:[1,0]"},"strokeWidth":{"signal":"datum.value==='V'||datum.value==='T'?1.5:0.8"},"size":{"signal":"datum.value==='V'||datum.value==='T'?250:22"}}}}}},"strokeDash":{"condition":{"test":"datum.key==='V'","value":[4,3]},"value":[1,0]}}},
  {"transform":[{"filter":{"field":"key","oneOf":["G","F","S","R"]}}],"mark":{"type":"point","filled":true,"clip":true,"size":22,"strokeWidth":0.8,"opacity":1},"encoding":{"color":{"field":"key","type":"nominal","scale":{"domain":["G","F","S","R","V","T"],"range":["#4c72b0","#55a868","#c44e52","#8172b2","#ff3333","#ccb974"]},"legend":{"title":null,"labelExpr":"datum.value==='G'?'Γᴵᶠᵉᵈ(ours)':datum.value==='F'?'Frobenius':datum.value==='S'?'spec-l₁,₂':datum.value==='R'?'spec-fro':datum.value==='V'?'VC Data Independent':'Test minus Train Error'","encode":{"symbols":{"update":{"stroke":{"signal":"datum.value==='R'?'#8172b2':datum.value==='V'?'#ff3333':datum.value==='T'?'#ccb974':'black'"},"strokeDash":{"signal":"datum.value==='V'?[3,2]:[1,0]"},"strokeWidth":{"signal":"datum.value==='V'||datum.value==='T'?1.5:0.8"},"size":{"signal":"datum.value==='V'||datum.value==='T'?250:22"}}}}}},"shape":{"field":"key","type":"nominal","scale":{"domain":["G","F","S","R","V","T"],"range":["square","circle","triangle-up","M-1,0L1,0M0,-1L0,1","stroke","stroke"]},"legend":{"title":null,"labelExpr":"datum.value==='G'?'Γᴵᶠᵉᵈ(ours)':datum.value==='F'?'Frobenius':datum.value==='S'?'spec-l₁,₂':datum.value==='R'?'spec-fro':datum.value==='V'?'VC Data Independent':'Test minus Train Error'","encode":{"symbols":{"update":{"stroke":{"signal":"datum.value==='R'?'#8172b2':datum.value==='V'?'#ff3333':datum.value==='T'?'#ccb974':'black'"},"strokeDash":{"signal":"datum.value==='V'?[3,2]:[1,0]"},"strokeWidth":{"signal":"datum.value==='V'||datum.value==='T'?1.5:0.8"},"size":{"signal":"datum.value==='V'||datum.value==='T'?250:22"}}}}}},"stroke":{"condition":{"test":"datum.key==='R'","value":"#8172b2"},"value":"black"}}}
 ]},
{"title":"(d) DataIIArchI","width":274,"height":169,"data":{"name":"d"},
 "transform":[{"fold":["G","F","S","R","V","T"],"as":["key","y"]},{"filter":"isValid(datum.y)"}],
 "encoding":{"x":{"field":"x","type":"quantitative","scale":{"domain":[0,5000],"nice":false},"axis":{"values":[0,1000,2000,3000,4000,5000],"format":"d","title":"Train Step"}},
  "y":{"field":"y","type":"quantitative","scale":{"type":"log","domain":[0.001,110000],"nice":false},"axis":{"values":[0.001,0.01,0.1,1,10,100,1000,10000],"title":null}}},
 "layer":[
  {"mark":{"type":"line","clip":true,"strokeWidth":1.3},"encoding":{"color":{"field":"key","type":"nominal","scale":{"domain":["G","F","S","R","V","T"],"range":["#4c72b0","#55a868","#c44e52","#8172b2","#ff3333","#ccb974"]},"legend":{"title":null,"labelExpr":"datum.value==='G'?'Γᴵᶠᵉᵈ(ours)':datum.value==='F'?'Frobenius':datum.value==='S'?'spec-l₁,₂':datum.value==='R'?'spec-fro':datum.value==='V'?'VC Data Independent':'Test minus Train Error'","encode":{"symbols":{"update":{"stroke":{"signal":"datum.value==='R'?'#8172b2':datum.value==='V'?'#ff3333':datum.value==='T'?'#ccb974':'black'"},"strokeDash":{"signal":"datum.value==='V'?[3,2]:[1,0]"},"strokeWidth":{"signal":"datum.value==='V'||datum.value==='T'?1.5:0.8"},"size":{"signal":"datum.value==='V'||datum.value==='T'?250:22"}}}}}},"strokeDash":{"condition":{"test":"datum.key==='V'","value":[4,3]},"value":[1,0]}}},
  {"transform":[{"filter":{"field":"key","oneOf":["G","F","S","R"]}}],"mark":{"type":"point","filled":true,"clip":true,"size":22,"strokeWidth":0.8,"opacity":1},"encoding":{"color":{"field":"key","type":"nominal","scale":{"domain":["G","F","S","R","V","T"],"range":["#4c72b0","#55a868","#c44e52","#8172b2","#ff3333","#ccb974"]},"legend":{"title":null,"labelExpr":"datum.value==='G'?'Γᴵᶠᵉᵈ(ours)':datum.value==='F'?'Frobenius':datum.value==='S'?'spec-l₁,₂':datum.value==='R'?'spec-fro':datum.value==='V'?'VC Data Independent':'Test minus Train Error'","encode":{"symbols":{"update":{"stroke":{"signal":"datum.value==='R'?'#8172b2':datum.value==='V'?'#ff3333':datum.value==='T'?'#ccb974':'black'"},"strokeDash":{"signal":"datum.value==='V'?[3,2]:[1,0]"},"strokeWidth":{"signal":"datum.value==='V'||datum.value==='T'?1.5:0.8"},"size":{"signal":"datum.value==='V'||datum.value==='T'?250:22"}}}}}},"shape":{"field":"key","type":"nominal","scale":{"domain":["G","F","S","R","V","T"],"range":["square","circle","triangle-up","M-1,0L1,0M0,-1L0,1","stroke","stroke"]},"legend":{"title":null,"labelExpr":"datum.value==='G'?'Γᴵᶠᵉᵈ(ours)':datum.value==='F'?'Frobenius':datum.value==='S'?'spec-l₁,₂':datum.value==='R'?'spec-fro':datum.value==='V'?'VC Data Independent':'Test minus Train Error'","encode":{"symbols":{"update":{"stroke":{"signal":"datum.value==='R'?'#8172b2':datum.value==='V'?'#ff3333':datum.value==='T'?'#ccb974':'black'"},"strokeDash":{"signal":"datum.value==='V'?[3,2]:[1,0]"},"strokeWidth":{"signal":"datum.value==='V'||datum.value==='T'?1.5:0.8"},"size":{"signal":"datum.value==='V'||datum.value==='T'?250:22"}}}}}},"stroke":{"condition":{"test":"datum.key==='R'","value":"#8172b2"},"value":"black"}}}
 ]},
{"title":"(g) DataIIIArchI","width":274,"height":169,"data":{"name":"g"},
 "transform":[{"fold":["G","F","S","R","V","T"],"as":["key","y"]},{"filter":"isValid(datum.y)"}],
 "encoding":{"x":{"field":"x","type":"quantitative","scale":{"domain":[0,5000],"nice":false},"axis":{"values":[0,1000,2000,3000,4000,5000],"format":"d","title":"Train Step"}},
  "y":{"field":"y","type":"quantitative","scale":{"type":"log","domain":[0.001,110000],"nice":false},"axis":{"values":[0.001,0.01,0.1,1,10,100,1000,10000],"title":null}}},
 "layer":[
  {"mark":{"type":"line","clip":true,"strokeWidth":1.3},"encoding":{"color":{"field":"key","type":"nominal","scale":{"domain":["G","F","S","R","V","T"],"range":["#4c72b0","#55a868","#c44e52","#8172b2","#ff3333","#ccb974"]},"legend":{"title":null,"labelExpr":"datum.value==='G'?'Γᴵᶠᵉᵈ(ours)':datum.value==='F'?'Frobenius':datum.value==='S'?'spec-l₁,₂':datum.value==='R'?'spec-fro':datum.value==='V'?'VC Data Independent':'Test minus Train Error'","encode":{"symbols":{"update":{"stroke":{"signal":"datum.value==='R'?'#8172b2':datum.value==='V'?'#ff3333':datum.value==='T'?'#ccb974':'black'"},"strokeDash":{"signal":"datum.value==='V'?[3,2]:[1,0]"},"strokeWidth":{"signal":"datum.value==='V'||datum.value==='T'?1.5:0.8"},"size":{"signal":"datum.value==='V'||datum.value==='T'?250:22"}}}}}},"strokeDash":{"condition":{"test":"datum.key==='V'","value":[4,3]},"value":[1,0]}}},
  {"transform":[{"filter":{"field":"key","oneOf":["G","F","S","R"]}}],"mark":{"type":"point","filled":true,"clip":true,"size":22,"strokeWidth":0.8,"opacity":1},"encoding":{"color":{"field":"key","type":"nominal","scale":{"domain":["G","F","S","R","V","T"],"range":["#4c72b0","#55a868","#c44e52","#8172b2","#ff3333","#ccb974"]},"legend":{"title":null,"labelExpr":"datum.value==='G'?'Γᴵᶠᵉᵈ(ours)':datum.value==='F'?'Frobenius':datum.value==='S'?'spec-l₁,₂':datum.value==='R'?'spec-fro':datum.value==='V'?'VC Data Independent':'Test minus Train Error'","encode":{"symbols":{"update":{"stroke":{"signal":"datum.value==='R'?'#8172b2':datum.value==='V'?'#ff3333':datum.value==='T'?'#ccb974':'black'"},"strokeDash":{"signal":"datum.value==='V'?[3,2]:[1,0]"},"strokeWidth":{"signal":"datum.value==='V'||datum.value==='T'?1.5:0.8"},"size":{"signal":"datum.value==='V'||datum.value==='T'?250:22"}}}}}},"shape":{"field":"key","type":"nominal","scale":{"domain":["G","F","S","R","V","T"],"range":["square","circle","triangle-up","M-1,0L1,0M0,-1L0,1","stroke","stroke"]},"legend":{"title":null,"labelExpr":"datum.value==='G'?'Γᴵᶠᵉᵈ(ours)':datum.value==='F'?'Frobenius':datum.value==='S'?'spec-l₁,₂':datum.value==='R'?'spec-fro':datum.value==='V'?'VC Data Independent':'Test minus Train Error'","encode":{"symbols":{"update":{"stroke":{"signal":"datum.value==='R'?'#8172b2':datum.value==='V'?'#ff3333':datum.value==='T'?'#ccb974':'black'"},"strokeDash":{"signal":"datum.value==='V'?[3,2]:[1,0]"},"strokeWidth":{"signal":"datum.value==='V'||datum.value==='T'?1.5:0.8"},"size":{"signal":"datum.value==='V'||datum.value==='T'?250:22"}}}}}},"stroke":{"condition":{"test":"datum.key==='R'","value":"#8172b2"},"value":"black"}}}
 ]},
{"title":"(b) DataIArchII","width":274,"height":169,"data":{"name":"b"},
 "transform":[{"fold":["G","F","S","R","V","T"],"as":["key","y"]},{"filter":"isValid(datum.y)"}],
 "encoding":{"x":{"field":"x","type":"quantitative","scale":{"domain":[0,5000],"nice":false},"axis":{"values":[0,1000,2000,3000,4000,5000],"format":"d","title":"Train Step"}},
  "y":{"field":"y","type":"quantitative","scale":{"type":"log","domain":[0.001,1100000],"nice":false},"axis":{"values":[0.001,0.01,0.1,1,10,100,1000,10000,100000,1000000],"title":null}}},
 "layer":[
  {"mark":{"type":"line","clip":true,"strokeWidth":1.3},"encoding":{"color":{"field":"key","type":"nominal","scale":{"domain":["G","F","S","R","V","T"],"range":["#4c72b0","#55a868","#c44e52","#8172b2","#ff3333","#ccb974"]},"legend":{"title":null,"labelExpr":"datum.value==='G'?'Γᴵᶠᵉᵈ(ours)':datum.value==='F'?'Frobenius':datum.value==='S'?'spec-l₁,₂':datum.value==='R'?'spec-fro':datum.value==='V'?'VC Data Independent':'Test minus Train Error'","encode":{"symbols":{"update":{"stroke":{"signal":"datum.value==='R'?'#8172b2':datum.value==='V'?'#ff3333':datum.value==='T'?'#ccb974':'black'"},"strokeDash":{"signal":"datum.value==='V'?[3,2]:[1,0]"},"strokeWidth":{"signal":"datum.value==='V'||datum.value==='T'?1.5:0.8"},"size":{"signal":"datum.value==='V'||datum.value==='T'?250:22"}}}}}},"strokeDash":{"condition":{"test":"datum.key==='V'","value":[4,3]},"value":[1,0]}}},
  {"transform":[{"filter":{"field":"key","oneOf":["G","F","S","R"]}}],"mark":{"type":"point","filled":true,"clip":true,"size":22,"strokeWidth":0.8,"opacity":1},"encoding":{"color":{"field":"key","type":"nominal","scale":{"domain":["G","F","S","R","V","T"],"range":["#4c72b0","#55a868","#c44e52","#8172b2","#ff3333","#ccb974"]},"legend":{"title":null,"labelExpr":"datum.value==='G'?'Γᴵᶠᵉᵈ(ours)':datum.value==='F'?'Frobenius':datum.value==='S'?'spec-l₁,₂':datum.value==='R'?'spec-fro':datum.value==='V'?'VC Data Independent':'Test minus Train Error'","encode":{"symbols":{"update":{"stroke":{"signal":"datum.value==='R'?'#8172b2':datum.value==='V'?'#ff3333':datum.value==='T'?'#ccb974':'black'"},"strokeDash":{"signal":"datum.value==='V'?[3,2]:[1,0]"},"strokeWidth":{"signal":"datum.value==='V'||datum.value==='T'?1.5:0.8"},"size":{"signal":"datum.value==='V'||datum.value==='T'?250:22"}}}}}},"shape":{"field":"key","type":"nominal","scale":{"domain":["G","F","S","R","V","T"],"range":["square","circle","triangle-up","M-1,0L1,0M0,-1L0,1","stroke","stroke"]},"legend":{"title":null,"labelExpr":"datum.value==='G'?'Γᴵᶠᵉᵈ(ours)':datum.value==='F'?'Frobenius':datum.value==='S'?'spec-l₁,₂':datum.value==='R'?'spec-fro':datum.value==='V'?'VC Data Independent':'Test minus Train Error'","encode":{"symbols":{"update":{"stroke":{"signal":"datum.value==='R'?'#8172b2':datum.value==='V'?'#ff3333':datum.value==='T'?'#ccb974':'black'"},"strokeDash":{"signal":"datum.value==='V'?[3,2]:[1,0]"},"strokeWidth":{"signal":"datum.value==='V'||datum.value==='T'?1.5:0.8"},"size":{"signal":"datum.value==='V'||datum.value==='T'?250:22"}}}}}},"stroke":{"condition":{"test":"datum.key==='R'","value":"#8172b2"},"value":"black"}}}
 ]},
{"title":"(e) DataIIArchII","width":274,"height":169,"data":{"name":"e"},
 "transform":[{"fold":["G","F","S","R","V","T"],"as":["key","y"]},{"filter":"isValid(datum.y)"}],
 "encoding":{"x":{"field":"x","type":"quantitative","scale":{"domain":[0,5000],"nice":false},"axis":{"values":[0,1000,2000,3000,4000,5000],"format":"d","title":"Train Step"}},
  "y":{"field":"y","type":"quantitative","scale":{"type":"log","domain":[0.001,1100000],"nice":false},"axis":{"values":[0.001,0.01,0.1,1,10,100,1000,10000,100000,1000000],"title":null}}},
 "layer":[
  {"mark":{"type":"line","clip":true,"strokeWidth":1.3},"encoding":{"color":{"field":"key","type":"nominal","scale":{"domain":["G","F","S","R","V","T"],"range":["#4c72b0","#55a868","#c44e52","#8172b2","#ff3333","#ccb974"]},"legend":{"title":null,"labelExpr":"datum.value==='G'?'Γᴵᶠᵉᵈ(ours)':datum.value==='F'?'Frobenius':datum.value==='S'?'spec-l₁,₂':datum.value==='R'?'spec-fro':datum.value==='V'?'VC Data Independent':'Test minus Train Error'","encode":{"symbols":{"update":{"stroke":{"signal":"datum.value==='R'?'#8172b2':datum.value==='V'?'#ff3333':datum.value==='T'?'#ccb974':'black'"},"strokeDash":{"signal":"datum.value==='V'?[3,2]:[1,0]"},"strokeWidth":{"signal":"datum.value==='V'||datum.value==='T'?1.5:0.8"},"size":{"signal":"datum.value==='V'||datum.value==='T'?250:22"}}}}}},"strokeDash":{"condition":{"test":"datum.key==='V'","value":[4,3]},"value":[1,0]}}},
  {"transform":[{"filter":{"field":"key","oneOf":["G","F","S","R"]}}],"mark":{"type":"point","filled":true,"clip":true,"size":22,"strokeWidth":0.8,"opacity":1},"encoding":{"color":{"field":"key","type":"nominal","scale":{"domain":["G","F","S","R","V","T"],"range":["#4c72b0","#55a868","#c44e52","#8172b2","#ff3333","#ccb974"]},"legend":{"title":null,"labelExpr":"datum.value==='G'?'Γᴵᶠᵉᵈ(ours)':datum.value==='F'?'Frobenius':datum.value==='S'?'spec-l₁,₂':datum.value==='R'?'spec-fro':datum.value==='V'?'VC Data Independent':'Test minus Train Error'","encode":{"symbols":{"update":{"stroke":{"signal":"datum.value==='R'?'#8172b2':datum.value==='V'?'#ff3333':datum.value==='T'?'#ccb974':'black'"},"strokeDash":{"signal":"datum.value==='V'?[3,2]:[1,0]"},"strokeWidth":{"signal":"datum.value==='V'||datum.value==='T'?1.5:0.8"},"size":{"signal":"datum.value==='V'||datum.value==='T'?250:22"}}}}}},"shape":{"field":"key","type":"nominal","scale":{"domain":["G","F","S","R","V","T"],"range":["square","circle","triangle-up","M-1,0L1,0M0,-1L0,1","stroke","stroke"]},"legend":{"title":null,"labelExpr":"datum.value==='G'?'Γᴵᶠᵉᵈ(ours)':datum.value==='F'?'Frobenius':datum.value==='S'?'spec-l₁,₂':datum.value==='R'?'spec-fro':datum.value==='V'?'VC Data Independent':'Test minus Train Error'","encode":{"symbols":{"update":{"stroke":{"signal":"datum.value==='R'?'#8172b2':datum.value==='V'?'#ff3333':datum.value==='T'?'#ccb974':'black'"},"strokeDash":{"signal":"datum.value==='V'?[3,2]:[1,0]"},"strokeWidth":{"signal":"datum.value==='V'||datum.value==='T'?1.5:0.8"},"size":{"signal":"datum.value==='V'||datum.value==='T'?250:22"}}}}}},"stroke":{"condition":{"test":"datum.key==='R'","value":"#8172b2"},"value":"black"}}}
 ]},
{"title":"(h) DataIIIArchI","width":274,"height":169,"data":{"name":"g"},
 "transform":[{"fold":["G","F","S","R","V","T"],"as":["key","y"]},{"filter":"isValid(datum.y)"}],
 "encoding":{"x":{"field":"x","type":"quantitative","scale":{"domain":[0,5000],"nice":false},"axis":{"values":[0,1000,2000,3000,4000,5000],"format":"d","title":"Train Step"}},
  "y":{"field":"y","type":"quantitative","scale":{"type":"log","domain":[0.001,110000],"nice":false},"axis":{"values":[0.001,0.01,0.1,1,10,100,1000,10000],"title":null}}},
 "layer":[
  {"mark":{"type":"line","clip":true,"strokeWidth":1.3},"encoding":{"color":{"field":"key","type":"nominal","scale":{"domain":["G","F","S","R","V","T"],"range":["#4c72b0","#55a868","#c44e52","#8172b2","#ff3333","#ccb974"]},"legend":{"title":null,"labelExpr":"datum.value==='G'?'Γᴵᶠᵉᵈ(ours)':datum.value==='F'?'Frobenius':datum.value==='S'?'spec-l₁,₂':datum.value==='R'?'spec-fro':datum.value==='V'?'VC Data Independent':'Test minus Train Error'","encode":{"symbols":{"update":{"stroke":{"signal":"datum.value==='R'?'#8172b2':datum.value==='V'?'#ff3333':datum.value==='T'?'#ccb974':'black'"},"strokeDash":{"signal":"datum.value==='V'?[3,2]:[1,0]"},"strokeWidth":{"signal":"datum.value==='V'||datum.value==='T'?1.5:0.8"},"size":{"signal":"datum.value==='V'||datum.value==='T'?250:22"}}}}}},"strokeDash":{"condition":{"test":"datum.key==='V'","value":[4,3]},"value":[1,0]}}},
  {"transform":[{"filter":{"field":"key","oneOf":["G","F","S","R"]}}],"mark":{"type":"point","filled":true,"clip":true,"size":22,"strokeWidth":0.8,"opacity":1},"encoding":{"color":{"field":"key","type":"nominal","scale":{"domain":["G","F","S","R","V","T"],"range":["#4c72b0","#55a868","#c44e52","#8172b2","#ff3333","#ccb974"]},"legend":{"title":null,"labelExpr":"datum.value==='G'?'Γᴵᶠᵉᵈ(ours)':datum.value==='F'?'Frobenius':datum.value==='S'?'spec-l₁,₂':datum.value==='R'?'spec-fro':datum.value==='V'?'VC Data Independent':'Test minus Train Error'","encode":{"symbols":{"update":{"stroke":{"signal":"datum.value==='R'?'#8172b2':datum.value==='V'?'#ff3333':datum.value==='T'?'#ccb974':'black'"},"strokeDash":{"signal":"datum.value==='V'?[3,2]:[1,0]"},"strokeWidth":{"signal":"datum.value==='V'||datum.value==='T'?1.5:0.8"},"size":{"signal":"datum.value==='V'||datum.value==='T'?250:22"}}}}}},"shape":{"field":"key","type":"nominal","scale":{"domain":["G","F","S","R","V","T"],"range":["square","circle","triangle-up","M-1,0L1,0M0,-1L0,1","stroke","stroke"]},"legend":{"title":null,"labelExpr":"datum.value==='G'?'Γᴵᶠᵉᵈ(ours)':datum.value==='F'?'Frobenius':datum.value==='S'?'spec-l₁,₂':datum.value==='R'?'spec-fro':datum.value==='V'?'VC Data Independent':'Test minus Train Error'","encode":{"symbols":{"update":{"stroke":{"signal":"datum.value==='R'?'#8172b2':datum.value==='V'?'#ff3333':datum.value==='T'?'#ccb974':'black'"},"strokeDash":{"signal":"datum.value==='V'?[3,2]:[1,0]"},"strokeWidth":{"signal":"datum.value==='V'||datum.value==='T'?1.5:0.8"},"size":{"signal":"datum.value==='V'||datum.value==='T'?250:22"}}}}}},"stroke":{"condition":{"test":"datum.key==='R'","value":"#8172b2"},"value":"black"}}}
 ]},
{"title":"(c) DataIArchIII","width":274,"height":169,"data":{"name":"c"},
 "transform":[{"fold":["G","F","S","R","V","T"],"as":["key","y"]},{"filter":"isValid(datum.y)"}],
 "encoding":{"x":{"field":"x","type":"quantitative","scale":{"domain":[0,5000],"nice":false},"axis":{"values":[0,1000,2000,3000,4000,5000],"format":"d","title":"Train Step"}},
  "y":{"field":"y","type":"quantitative","scale":{"type":"log","domain":[0.001,10700000],"nice":false},"axis":{"values":[0.001,0.01,0.1,1,10,100,1000,10000,100000,1000000],"title":null}}},
 "layer":[
  {"mark":{"type":"line","clip":true,"strokeWidth":1.3},"encoding":{"color":{"field":"key","type":"nominal","scale":{"domain":["G","F","S","R","V","T"],"range":["#4c72b0","#55a868","#c44e52","#8172b2","#ff3333","#ccb974"]},"legend":{"title":null,"labelExpr":"datum.value==='G'?'Γᴵᶠᵉᵈ(ours)':datum.value==='F'?'Frobenius':datum.value==='S'?'spec-l₁,₂':datum.value==='R'?'spec-fro':datum.value==='V'?'VC Data Independent':'Test minus Train Error'","encode":{"symbols":{"update":{"stroke":{"signal":"datum.value==='R'?'#8172b2':datum.value==='V'?'#ff3333':datum.value==='T'?'#ccb974':'black'"},"strokeDash":{"signal":"datum.value==='V'?[3,2]:[1,0]"},"strokeWidth":{"signal":"datum.value==='V'||datum.value==='T'?1.5:0.8"},"size":{"signal":"datum.value==='V'||datum.value==='T'?250:22"}}}}}},"strokeDash":{"condition":{"test":"datum.key==='V'","value":[4,3]},"value":[1,0]}}},
  {"transform":[{"filter":{"field":"key","oneOf":["G","F","S","R"]}}],"mark":{"type":"point","filled":true,"clip":true,"size":22,"strokeWidth":0.8,"opacity":1},"encoding":{"color":{"field":"key","type":"nominal","scale":{"domain":["G","F","S","R","V","T"],"range":["#4c72b0","#55a868","#c44e52","#8172b2","#ff3333","#ccb974"]},"legend":{"title":null,"labelExpr":"datum.value==='G'?'Γᴵᶠᵉᵈ(ours)':datum.value==='F'?'Frobenius':datum.value==='S'?'spec-l₁,₂':datum.value==='R'?'spec-fro':datum.value==='V'?'VC Data Independent':'Test minus Train Error'","encode":{"symbols":{"update":{"stroke":{"signal":"datum.value==='R'?'#8172b2':datum.value==='V'?'#ff3333':datum.value==='T'?'#ccb974':'black'"},"strokeDash":{"signal":"datum.value==='V'?[3,2]:[1,0]"},"strokeWidth":{"signal":"datum.value==='V'||datum.value==='T'?1.5:0.8"},"size":{"signal":"datum.value==='V'||datum.value==='T'?250:22"}}}}}},"shape":{"field":"key","type":"nominal","scale":{"domain":["G","F","S","R","V","T"],"range":["square","circle","triangle-up","M-1,0L1,0M0,-1L0,1","stroke","stroke"]},"legend":{"title":null,"labelExpr":"datum.value==='G'?'Γᴵᶠᵉᵈ(ours)':datum.value==='F'?'Frobenius':datum.value==='S'?'spec-l₁,₂':datum.value==='R'?'spec-fro':datum.value==='V'?'VC Data Independent':'Test minus Train Error'","encode":{"symbols":{"update":{"stroke":{"signal":"datum.value==='R'?'#8172b2':datum.value==='V'?'#ff3333':datum.value==='T'?'#ccb974':'black'"},"strokeDash":{"signal":"datum.value==='V'?[3,2]:[1,0]"},"strokeWidth":{"signal":"datum.value==='V'||datum.value==='T'?1.5:0.8"},"size":{"signal":"datum.value==='V'||datum.value==='T'?250:22"}}}}}},"stroke":{"condition":{"test":"datum.key==='R'","value":"#8172b2"},"value":"black"}}}
 ]},
{"title":"(f) DataIIArchIII","width":274,"height":169,"data":{"name":"f"},
 "transform":[{"fold":["G","F","S","R","V","T"],"as":["key","y"]},{"filter":"isValid(datum.y)"}],
 "encoding":{"x":{"field":"x","type":"quantitative","scale":{"domain":[0,5000],"nice":false},"axis":{"values":[0,1000,2000,3000,4000,5000],"format":"d","title":"Train Step"}},
  "y":{"field":"y","type":"quantitative","scale":{"type":"log","domain":[0.001,10700000],"nice":false},"axis":{"values":[0.001,0.01,0.1,1,10,100,1000,10000,100000,1000000],"title":null}}},
 "layer":[
  {"mark":{"type":"line","clip":true,"strokeWidth":1.3},"encoding":{"color":{"field":"key","type":"nominal","scale":{"domain":["G","F","S","R","V","T"],"range":["#4c72b0","#55a868","#c44e52","#8172b2","#ff3333","#ccb974"]},"legend":{"title":null,"labelExpr":"datum.value==='G'?'Γᴵᶠᵉᵈ(ours)':datum.value==='F'?'Frobenius':datum.value==='S'?'spec-l₁,₂':datum.value==='R'?'spec-fro':datum.value==='V'?'VC Data Independent':'Test minus Train Error'","encode":{"symbols":{"update":{"stroke":{"signal":"datum.value==='R'?'#8172b2':datum.value==='V'?'#ff3333':datum.value==='T'?'#ccb974':'black'"},"strokeDash":{"signal":"datum.value==='V'?[3,2]:[1,0]"},"strokeWidth":{"signal":"datum.value==='V'||datum.value==='T'?1.5:0.8"},"size":{"signal":"datum.value==='V'||datum.value==='T'?250:22"}}}}}},"strokeDash":{"condition":{"test":"datum.key==='V'","value":[4,3]},"value":[1,0]}}},
  {"transform":[{"filter":{"field":"key","oneOf":["G","F","S","R"]}}],"mark":{"type":"point","filled":true,"clip":true,"size":22,"strokeWidth":0.8,"opacity":1},"encoding":{"color":{"field":"key","type":"nominal","scale":{"domain":["G","F","S","R","V","T"],"range":["#4c72b0","#55a868","#c44e52","#8172b2","#ff3333","#ccb974"]},"legend":{"title":null,"labelExpr":"datum.value==='G'?'Γᴵᶠᵉᵈ(ours)':datum.value==='F'?'Frobenius':datum.value==='S'?'spec-l₁,₂':datum.value==='R'?'spec-fro':datum.value==='V'?'VC Data Independent':'Test minus Train Error'","encode":{"symbols":{"update":{"stroke":{"signal":"datum.value==='R'?'#8172b2':datum.value==='V'?'#ff3333':datum.value==='T'?'#ccb974':'black'"},"strokeDash":{"signal":"datum.value==='V'?[3,2]:[1,0]"},"strokeWidth":{"signal":"datum.value==='V'||datum.value==='T'?1.5:0.8"},"size":{"signal":"datum.value==='V'||datum.value==='T'?250:22"}}}}}},"shape":{"field":"key","type":"nominal","scale":{"domain":["G","F","S","R","V","T"],"range":["square","circle","triangle-up","M-1,0L1,0M0,-1L0,1","stroke","stroke"]},"legend":{"title":null,"labelExpr":"datum.value==='G'?'Γᴵᶠᵉᵈ(ours)':datum.value==='F'?'Frobenius':datum.value==='S'?'spec-l₁,₂':datum.value==='R'?'spec-fro':datum.value==='V'?'VC Data Independent':'Test minus Train Error'","encode":{"symbols":{"update":{"stroke":{"signal":"datum.value==='R'?'#8172b2':datum.value==='V'?'#ff3333':datum.value==='T'?'#ccb974':'black'"},"strokeDash":{"signal":"datum.value==='V'?[3,2]:[1,0]"},"strokeWidth":{"signal":"datum.value==='V'||datum.value==='T'?1.5:0.8"},"size":{"signal":"datum.value==='V'||datum.value==='T'?250:22"}}}}}},"stroke":{"condition":{"test":"datum.key==='R'","value":"#8172b2"},"value":"black"}}}
 ]},
{"title":"(i) DataIIIArchI","width":274,"height":169,"data":{"name":"g"},
 "transform":[{"fold":["G","F","S","R","V","T"],"as":["key","y"]},{"filter":"isValid(datum.y)"}],
 "encoding":{"x":{"field":"x","type":"quantitative","scale":{"domain":[0,5000],"nice":false},"axis":{"values":[0,1000,2000,3000,4000,5000],"format":"d","title":"Train Step"}},
  "y":{"field":"y","type":"quantitative","scale":{"type":"log","domain":[0.001,110000],"nice":false},"axis":{"values":[0.001,0.01,0.1,1,10,100,1000,10000],"title":null}}},
 "layer":[
  {"mark":{"type":"line","clip":true,"strokeWidth":1.3},"encoding":{"color":{"field":"key","type":"nominal","scale":{"domain":["G","F","S","R","V","T"],"range":["#4c72b0","#55a868","#c44e52","#8172b2","#ff3333","#ccb974"]},"legend":{"title":null,"labelExpr":"datum.value==='G'?'Γᴵᶠᵉᵈ(ours)':datum.value==='F'?'Frobenius':datum.value==='S'?'spec-l₁,₂':datum.value==='R'?'spec-fro':datum.value==='V'?'VC Data Independent':'Test minus Train Error'","encode":{"symbols":{"update":{"stroke":{"signal":"datum.value==='R'?'#8172b2':datum.value==='V'?'#ff3333':datum.value==='T'?'#ccb974':'black'"},"strokeDash":{"signal":"datum.value==='V'?[3,2]:[1,0]"},"strokeWidth":{"signal":"datum.value==='V'||datum.value==='T'?1.5:0.8"},"size":{"signal":"datum.value==='V'||datum.value==='T'?250:22"}}}}}},"strokeDash":{"condition":{"test":"datum.key==='V'","value":[4,3]},"value":[1,0]}}},
  {"transform":[{"filter":{"field":"key","oneOf":["G","F","S","R"]}}],"mark":{"type":"point","filled":true,"clip":true,"size":22,"strokeWidth":0.8,"opacity":1},"encoding":{"color":{"field":"key","type":"nominal","scale":{"domain":["G","F","S","R","V","T"],"range":["#4c72b0","#55a868","#c44e52","#8172b2","#ff3333","#ccb974"]},"legend":{"title":null,"labelExpr":"datum.value==='G'?'Γᴵᶠᵉᵈ(ours)':datum.value==='F'?'Frobenius':datum.value==='S'?'spec-l₁,₂':datum.value==='R'?'spec-fro':datum.value==='V'?'VC Data Independent':'Test minus Train Error'","encode":{"symbols":{"update":{"stroke":{"signal":"datum.value==='R'?'#8172b2':datum.value==='V'?'#ff3333':datum.value==='T'?'#ccb974':'black'"},"strokeDash":{"signal":"datum.value==='V'?[3,2]:[1,0]"},"strokeWidth":{"signal":"datum.value==='V'||datum.value==='T'?1.5:0.8"},"size":{"signal":"datum.value==='V'||datum.value==='T'?250:22"}}}}}},"shape":{"field":"key","type":"nominal","scale":{"domain":["G","F","S","R","V","T"],"range":["square","circle","triangle-up","M-1,0L1,0M0,-1L0,1","stroke","stroke"]},"legend":{"title":null,"labelExpr":"datum.value==='G'?'Γᴵᶠᵉᵈ(ours)':datum.value==='F'?'Frobenius':datum.value==='S'?'spec-l₁,₂':datum.value==='R'?'spec-fro':datum.value==='V'?'VC Data Independent':'Test minus Train Error'","encode":{"symbols":{"update":{"stroke":{"signal":"datum.value==='R'?'#8172b2':datum.value==='V'?'#ff3333':datum.value==='T'?'#ccb974':'black'"},"strokeDash":{"signal":"datum.value==='V'?[3,2]:[1,0]"},"strokeWidth":{"signal":"datum.value==='V'||datum.value==='T'?1.5:0.8"},"size":{"signal":"datum.value==='V'||datum.value==='T'?250:22"}}}}}},"stroke":{"condition":{"test":"datum.key==='R'","value":"#8172b2"},"value":"black"}}}
 ]}
]
}
